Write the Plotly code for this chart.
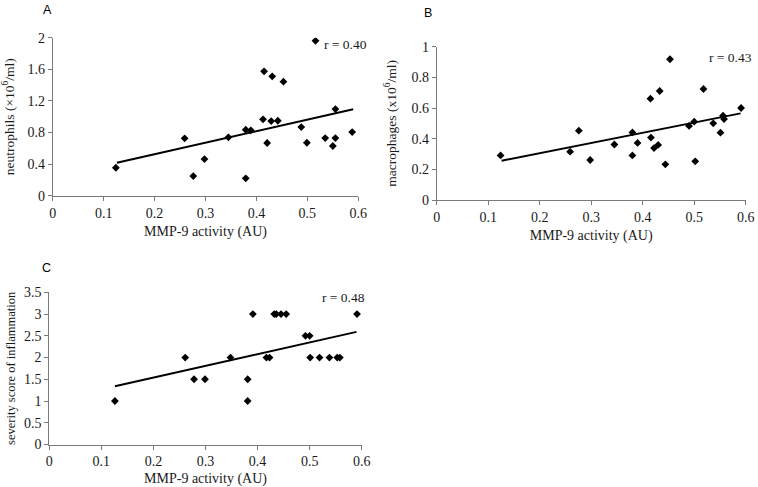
import plotly.graph_objects as go

# ---- data ----
x_a = [0.124, 0.259, 0.276, 0.298, 0.345, 0.379, 0.389, 0.379, 0.413, 0.415, 0.421, 0.429,
       0.431, 0.442, 0.453, 0.488, 0.499, 0.516, 0.535, 0.550, 0.555, 0.555, 0.588]
y_a = [0.354, 0.726, 0.249, 0.464, 0.739, 0.835, 0.827, 0.22, 0.967, 1.574, 0.667, 0.945,
       1.511, 0.949, 1.443, 0.869, 0.67, 1.96, 0.73, 0.629, 1.097, 0.73, 0.806]

x_b = [0.124, 0.259, 0.276, 0.298, 0.345, 0.380, 0.380, 0.390, 0.415, 0.416, 0.422, 0.430,
       0.433, 0.444, 0.453, 0.490, 0.500, 0.502, 0.518, 0.537, 0.551, 0.556, 0.558, 0.591]
y_b = [0.291, 0.315, 0.452, 0.261, 0.362, 0.441, 0.291, 0.372, 0.661, 0.407, 0.339, 0.359,
       0.711, 0.233, 0.918, 0.483, 0.511, 0.252, 0.724, 0.50, 0.439, 0.55, 0.528, 0.60]

x_c = [0.126, 0.261, 0.278, 0.299, 0.348, 0.381, 0.381, 0.391, 0.417, 0.423, 0.432, 0.436,
       0.445, 0.455, 0.492, 0.500, 0.501, 0.519, 0.538, 0.553, 0.558, 0.591]
y_c = [1, 2, 1.5, 1.5, 2, 1.5, 1, 3, 2, 2, 3, 3, 3, 3, 2.5, 2.5, 2, 2, 2, 2, 2, 3]

trend_x = [0.126, 0.59]
trend_a = [0.418, 1.093]
trend_b = [0.256, 0.565]
trend_c = [1.34, 2.59]

x_ticks = [0, 0.1, 0.2, 0.3, 0.4, 0.5, 0.6]
y_ticks_a = [0, 0.4, 0.8, 1.2, 1.6, 2]
y_ticks_b = [0, 0.2, 0.4, 0.6, 0.8, 1]
y_ticks_c = [0, 0.5, 1, 1.5, 2, 2.5, 3, 3.5]

x_title = "MMP-9 activity (AU)"
y_title_a = "neutrophils (\u00d710<sup>6</sup>/ml)"
y_title_b = "macrophages (x10<sup>6</sup>/ml)"
y_title_c = "severity score of inflammation"
r_labels = ["r = 0.40", "r = 0.43", "r = 0.48"]
panel_letters = ["A", "B", "C"]

W, H = 758, 487
SERIF = "Liberation Serif, Times New Roman, serif"
TXT = "#1a1a1a"
AX = "#7a7a7a"

fig = go.Figure()

marker = dict(symbol="diamond", size=6, color="black")
line = dict(color="black", width=2)

panels = [
    (x_a, y_a, trend_a, "x", "y"),
    (x_b, y_b, trend_b, "x2", "y2"),
    (x_c, y_c, trend_c, "x3", "y3"),
]
for xs, ys, tr, xa, ya in panels:
    fig.add_trace(go.Scatter(x=xs, y=ys, mode="markers", marker=marker,
                             xaxis=xa, yaxis=ya, showlegend=False))
    fig.add_trace(go.Scatter(x=trend_x, y=tr, mode="lines", line=line,
                             xaxis=xa, yaxis=ya, showlegend=False))


def px_dom(a, b):
    return [a / W, b / W]


def py_dom(top, bottom):
    return [1 - bottom / H, 1 - top / H]


def xaxis(domain, anchor):
    return dict(domain=domain, anchor=anchor, range=[0, 0.6], tickvals=x_ticks,
                ticktext=[f"{v:g}" for v in x_ticks],
                showline=True, linecolor=AX, linewidth=1, ticks="outside",
                ticklen=4, tickcolor=AX, showgrid=False, zeroline=False,
                ticklabeloverflow="allow",
                tickfont=dict(family=SERIF, size=14, color=TXT),
                title=dict(text=x_title, font=dict(family=SERIF, size=14, color=TXT),
                           standoff=6))


def yaxis(domain, anchor, rng, ticks, title, tsize, standoff):
    return dict(domain=domain, anchor=anchor, range=rng, tickvals=ticks,
                ticktext=[f"{v:g}" for v in ticks],
                showline=True, linecolor=AX, linewidth=1, ticks="outside",
                ticklen=4, tickcolor=AX, showgrid=False, zeroline=False,
                tickfont=dict(family=SERIF, size=14, color=TXT),
                title=dict(text=title, font=dict(family=SERIF, size=tsize, color=TXT),
                           standoff=standoff))


fig.update_layout(
    width=W, height=H, autosize=False,
    margin=dict(l=0, r=0, t=0, b=0, autoexpand=False),
    paper_bgcolor="white", plot_bgcolor="white",
    xaxis=xaxis(px_dom(52.7, 358.3), "y"),
    yaxis=yaxis(py_dom(37.7, 195.7), "x", [0, 2], y_ticks_a, y_title_a, 13.5, 10),
    xaxis2=xaxis(px_dom(436.7, 745.7), "y2"),
    yaxis2=yaxis(py_dom(46.7, 200), "x2", [0, 1], y_ticks_b, y_title_b, 13.5, 11),
    xaxis3=xaxis(px_dom(49.3, 361.7), "y3"),
    yaxis3=yaxis(py_dom(292.3, 444.5), "x3", [0, 3.5], y_ticks_c, y_title_c, 12.5, 5),
)

# r annotations
r_pos = [(345, 45), (730, 57), (343, 297)]
for txt, (px, py) in zip(r_labels, r_pos):
    fig.add_annotation(x=px / W, y=1 - py / H, xref="paper", yref="paper",
                       text=txt, showarrow=False, xanchor="center", yanchor="middle",
                       font=dict(family=SERIF, size=13.5, color=TXT))

# panel letters
l_pos = [(47, 10), (428, 13), (46, 268)]
for txt, (px, py) in zip(panel_letters, l_pos):
    fig.add_annotation(x=px / W, y=1 - py / H, xref="paper", yref="paper",
                       text=txt, showarrow=False, xanchor="center", yanchor="middle",
                       font=dict(family="Liberation Sans, Arial, sans-serif", size=12.5,
                                 color="black"))

fig.write_html("out.html", config={"displayModeBar": False},
               post_script="document.body.style.margin='0';document.body.style.overflow='hidden';")
